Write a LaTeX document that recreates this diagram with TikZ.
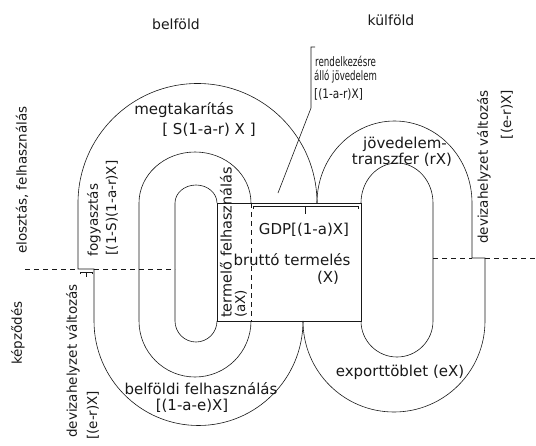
\documentclass[tikz,border=0pt]{standalone}
\usepackage{fontspec}
\setmainfont{DejaVu Sans}
\begin{document}
\begin{tikzpicture}[x=1pt,y=-1pt,
  ln/.style={draw=black!90, line width=0.6pt},
  dsh/.style={ln, dash pattern=on 5pt off 4pt},
  lbl/.style={font=\fontsize{15}{17}\selectfont, inner sep=0pt, text=black!90},
  ttl/.style={lbl, font=\fontsize{14}{16}\selectfont},
  sml/.style={lbl, font=\fontsize{13}{15}\selectfont},
  rlbl/.style={lbl, font=\fontsize{13.5}{16}\selectfont, rotate=90}]
\fill[white] (0,0) rectangle (536,445);
\useasboundingbox (0,0) rectangle (536,445);

% central box (brutto termeles)
\draw[ln] (217,203) rectangle (361,321);
% innermost left loop
\draw[ln] (217,203) arc (360:180:21 and 18) -- (175,321) arc (180:0:21);
% second left loop
\draw[ln] (251,203) arc (360:180:56 and 51) -- (139,321) arc (180:0:56);
\draw[dsh] (251,203) -- (251,321);
% outer left loop
\draw[ln] (317,203) arc (360:180:119.5) -- (78,269) -- (94,269) -- (94,321) arc (180:0:104.5);
% outer right loop
\draw[ln] (317,203) arc (180:360:77.5 and 82) -- (472,258) -- (485,258) -- (485,321) arc (0:180:91);
% inner right loop
\draw[ln] (361,203) arc (180:360:36 and 40) -- (433,321) arc (0:180:36);

% dashed separation
\draw[dsh] (25,269) -- (78,269);
\draw[dsh] (94,269) -- (175,269);
\draw[dsh] (433,258) -- (472,258);
\draw[dsh] (485,258) -- (536,258);

% braces
\draw[ln] (253,209) -- (253,206) -- (358,206) -- (358,209);
\draw[ln] (305,206) -- (305,214);
\draw[ln] (80,274) -- (80,272) -- (92,272) -- (92,274);
\draw[ln] (86,272) -- (86,277);

% callout bracket
\coordinate (brtop) at (311,47);
\coordinate (brk) at (311,108);
\coordinate (ldr) at (278,193);
\draw[ln] (315,47) -- (brtop) -- (brk) -- (ldr);

% labels
\node[ttl] (belf) at (176,24) {belföld};
\node[ttl] (kulf) at (391,20) {külföld};
\node[sml, anchor=west] (rend1) at (315,61) {\scalebox{0.67}[1]{rendelkezésre}};
\node[sml, anchor=west] (rend2) at (314,77) {\scalebox{0.66}[1]{álló jövedelem}};
\node[sml, anchor=west] (rend3) at (314,94) {\scalebox{0.81}[1]{[(1-a-r)X]}};
\node[lbl] (megt1) at (184,110) {megtakarítás};
\node[lbl] (megt2) at (209,130) {[ S(1-a-r) X ]};
\node[lbl] (jov1) at (405,144) {jövedelem-};
\node[lbl] (jov2) at (402,160) {transzfer (rX)};
\node[lbl] (gdp) at (304,230) {GDP[(1-a)X]};
\node[lbl] (brut) at (292,260) {bruttó termelés};
\node[lbl] (bx) at (328,278) {(X)};
\node[lbl] (exp) at (400,372) {exporttöblet (eX)};
\node[lbl] (belfh1) at (201,389) {belföldi felhasználás};
\node[lbl] (belfh2) at (192,406) {[(1-a-e)X]};
\node[rlbl] (elo) at (22,180) {elosztás, felhasználás};
\node[rlbl] (kep) at (18,333) {képződés};
\node[rlbl] (fogy1) at (94,220) {fogyasztás};
\node[rlbl] (fogy2) at (112,208) {[(1-S)(1-a-r)X]};
\node[rlbl, font=\fontsize{14.5}{16}\selectfont, anchor=west] (term1) at (226,318) {termelő felhasználás};
\node[rlbl, anchor=west] (term2) at (241,318) {(aX)};
\node[rlbl, anchor=west] (devl1) at (73,438) {devizahelyzet változás};
\node[rlbl, anchor=west] (devl2) at (93,440) {[(e-r)X]};
\node[rlbl, anchor=east] (devr1) at (484,90) {devizahelyzet változás};
\node[rlbl, anchor=east] (devr2) at (507,90) {[(e-r)X]};
\end{tikzpicture}
\end{document}
